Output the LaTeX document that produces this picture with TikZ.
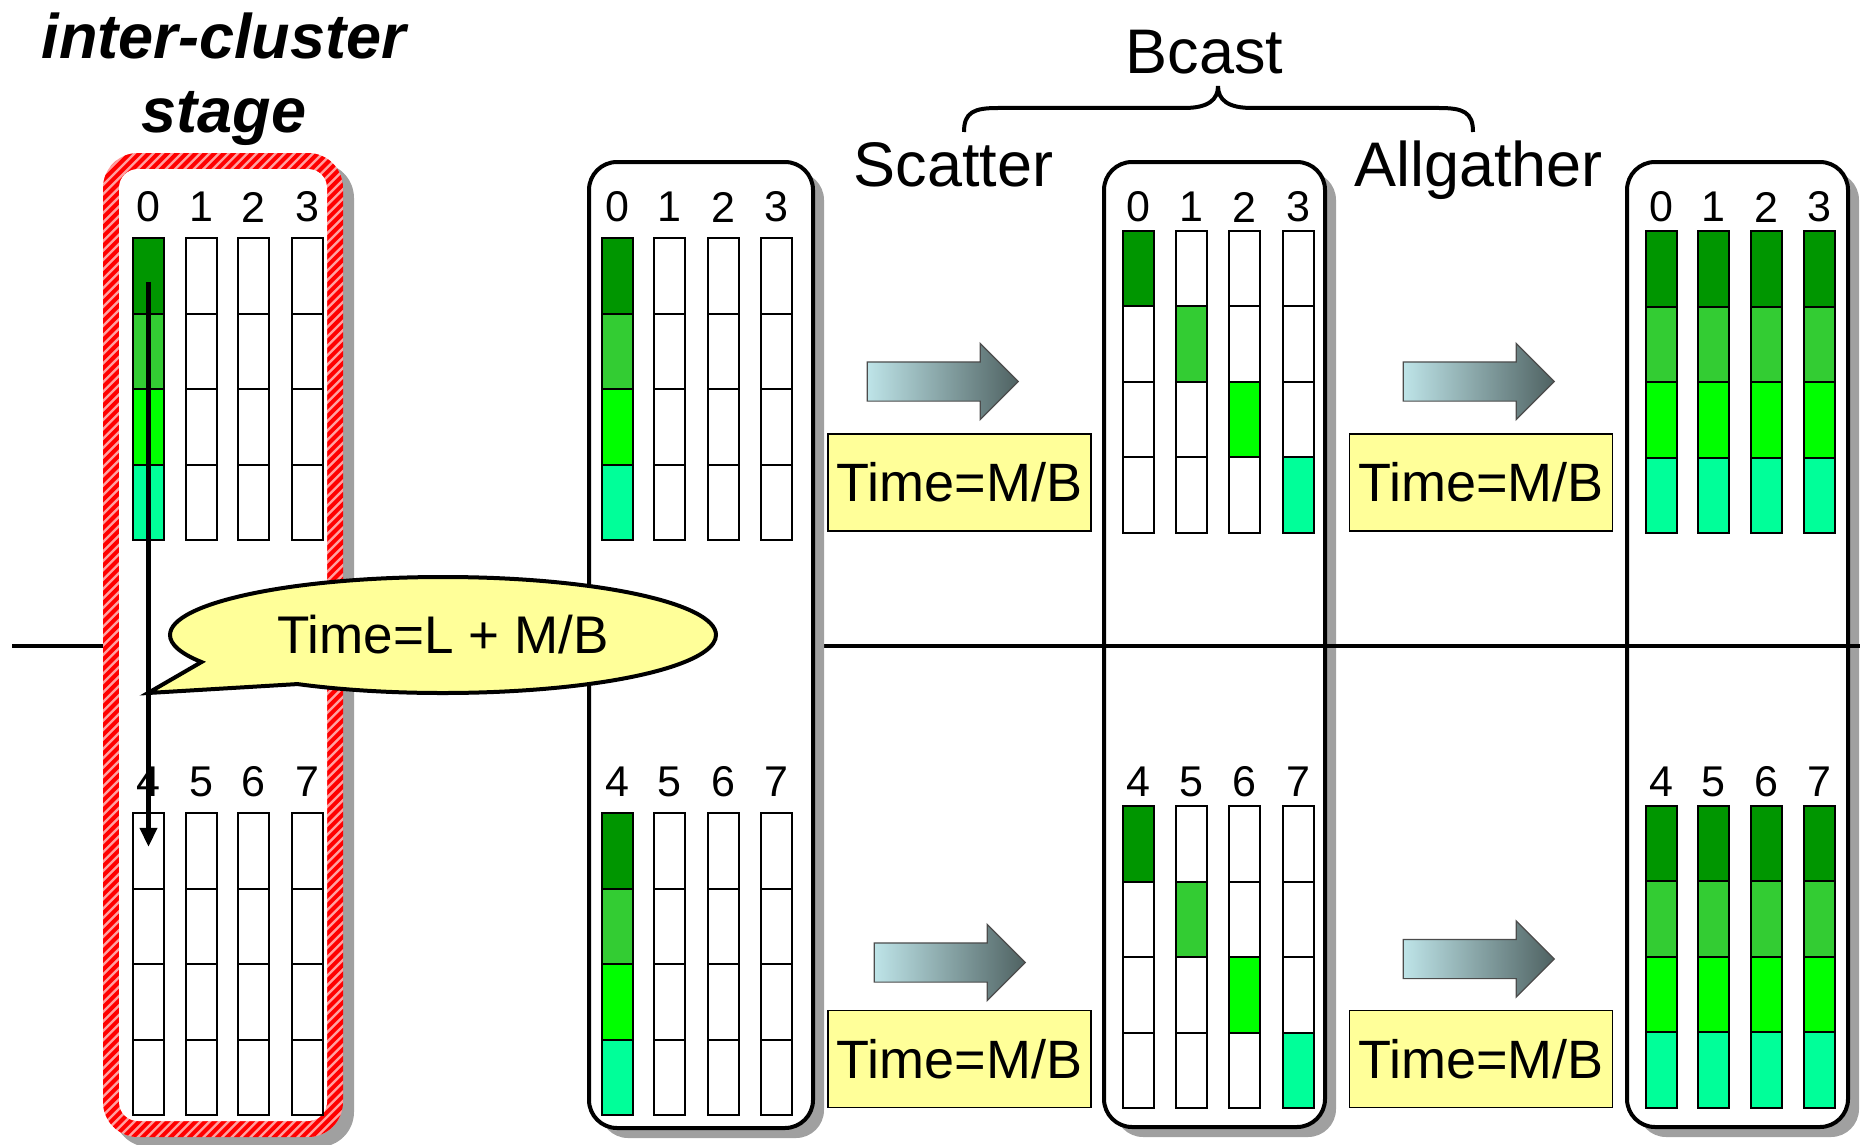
\documentclass[tikz,border=0pt]{standalone}
\usepackage{fontspec}
\setmainfont{Liberation Sans}
\usepackage{xcolor}
\usetikzlibrary{arrows.meta, positioning, shapes.arrows, shapes.callouts, shadows}

\definecolor{gA}{HTML}{009600}
\definecolor{gB}{HTML}{33CC33}
\definecolor{gC}{HTML}{00FF00}
\definecolor{gD}{HTML}{00FF99}
\definecolor{noteyellow}{HTML}{FFFF99}
\definecolor{hatchpink}{HTML}{FFA0A0}
\definecolor{arrowlight}{HTML}{BEE4E8}
\definecolor{arrowdark}{HTML}{4F6262}
\definecolor{shadowgray}{HTML}{A0A0A0}

% one group of 4 process columns: name, x centres, label y, top y, fill mode, first rank
\newcommand{\cellgroup}[6]{%
  \foreach \cx [count=\i from 0] in {#2} {
    \pgfmathtruncatemacro{\rk}{#6+\i}
    \node[ranklbl] (#1-lbl\i) at (\cx,#3) {\rk};
    \foreach \cc [count=\r from 0] in {gA,gB,gC,gD} {
      \def\fillc{white}
      \ifcase#5\relax \or \ifnum\i=0 \def\fillc{\cc}\fi \or \ifnum\i=\r\relax \def\fillc{\cc}\fi \or \def\fillc{\cc}\fi
      \node[slot, fill=\fillc] (#1-\i-\r) at (\cx,{#4+37.75+75.5*\r}) {};
    }
  }
}

\begin{document}
\begin{tikzpicture}[
    x=1pt, y=-1pt,
    panel/.style={draw, line width=4pt, fill=white, rounded corners=28pt, inner sep=0pt,
                  drop shadow={shadow xshift=11pt, shadow yshift=-10pt, fill=shadowgray, opacity=1}},
    slot/.style={draw, line width=2pt, minimum width=31pt, minimum height=75.5pt, inner sep=0pt},
    ranklbl/.style={inner sep=0pt, font=\fontsize{43}{48}\selectfont},
    notebox/.style={draw, line width=1.5pt, fill=noteyellow, minimum width=263pt, minimum height=97pt,
                    inner sep=0pt, font=\fontsize{54}{60}\selectfont},
    flowarrow/.style={single arrow, draw=black!70, line width=1.2pt, left color=arrowlight,
                      right color=arrowdark, minimum height=151pt, minimum width=75pt,
                      single arrow head extend=18.5pt, inner xsep=0pt, inner ysep=19pt},
    heading/.style={inner sep=0pt, anchor=base, font=\fontsize{63}{74}\selectfont},
    title/.style={heading, font=\fontsize{63}{74}\selectfont\bfseries\itshape},
    flow/.style={-{Triangle[length=19pt, width=17pt]}, line width=4.5pt},
]
\useasboundingbox (0,0) rectangle (1860,1145);

% Scatter and Allgather results
\node[panel, minimum width=221pt, minimum height=965pt] (scatbox) at (1214.5,644.5) {};
\node[panel, minimum width=221pt, minimum height=965pt] (gathbox) at (1737.5,644.5) {};
\cellgroup{scA}{1138.5,1191.5,1244.5,1298}{207}{230.5}{2}{0}
\cellgroup{scB}{1138.5,1191.5,1244.5,1298}{782}{806}{2}{4}
\cellgroup{agA}{1661,1713.5,1766.5,1819.5}{207}{231}{3}{0}
\cellgroup{agB}{1661,1713.5,1766.5,1819.5}{782}{805.5}{3}{4}

% cluster border
\coordinate (busL) at (12,646);
\coordinate (busR) at (1860,646);
\draw[line width=4pt] (busL) -- (busR);

% inter-cluster stage (hatched)
\fill[shadowgray, rounded corners=35pt] (114,163) rectangle (354,1147);
\begin{scope}
  \clip[rounded corners=35pt] (103,153) rectangle (343,1137);
  \fill[hatchpink] (103,153) rectangle (343,1137);
  \foreach \k in {0,...,132}
    \draw[red, line width=4pt] ({-890+9.4*\k},1145) -- ++(1000,-1000);
\end{scope}
\fill[white, rounded corners=19pt] (119,169) rectangle (327,1121);
\cellgroup{inA}{148.5,201.5,253.5,307.5}{207}{238}{1}{0}
\cellgroup{inB}{148.5,201.5,253.5,307.5}{782}{813}{0}{4}

% after inter-cluster stage
\node[panel, minimum width=224pt, minimum height=966pt] (rootbox) at (701,645) {};
\cellgroup{rtA}{617,669.5,723,776}{207}{238}{1}{0}
\cellgroup{rtB}{617,669.5,723,776}{782}{813}{1}{4}

% transfer arrow + callout
\draw[flow] ([yshift=-6pt]inA-0-0.center) -- ([yshift=4pt]inB-0-0.center);
\coordinate (tail) at (148,693);
\node[ellipse callout, draw, line width=4pt, fill=noteyellow, minimum width=546pt,
      minimum height=116pt, inner sep=0pt, callout absolute pointer={(tail)},
      callout pointer arc=30, font=\fontsize{53}{60}\selectfont] (delay) at (443,635) {Time=L + M/B};

% Scatter / Allgather steps
\node[flowarrow] (scatup) at (933,381.5) {};
\node[flowarrow] (scatlo) at (940,962.5) {};
\node[flowarrow] (gathup) at (1469,381.5) {};
\node[flowarrow] (gathlo) at (1469,959) {};
\node[notebox] (scattime) at (959.5,482.5) {Time=M/B};
\node[notebox] (scattime2) at (959.5,1059) {Time=M/B};
\node[notebox] (gathtime) at (1481,482.5) {Time=M/B};
\node[notebox] (gathtime2) at (1481,1059) {Time=M/B};

% Headings
\node[title] (stage1) at (224,59) {inter-cluster};
\node[title] (stage2) at (224,133) {stage};
\node[heading] (scattxt) at (953.5,186) {Scatter};
\node[heading] (gathtxt) at (1478.5,186) {Allgather};
\node[heading] (bcasttxt) at (1204.5,74) {Bcast};
\draw[line width=4pt] (964,132) .. controls (964,112) and (974,108) .. (998,108) -- (1184,108)
  .. controls (1208,108) and (1218,100) .. (1218,86) .. controls (1218,100) and (1228,108) .. (1252,108)
  -- (1439,108) .. controls (1463,108) and (1473,112) .. (1473,132);

\end{tikzpicture}
\end{document}
